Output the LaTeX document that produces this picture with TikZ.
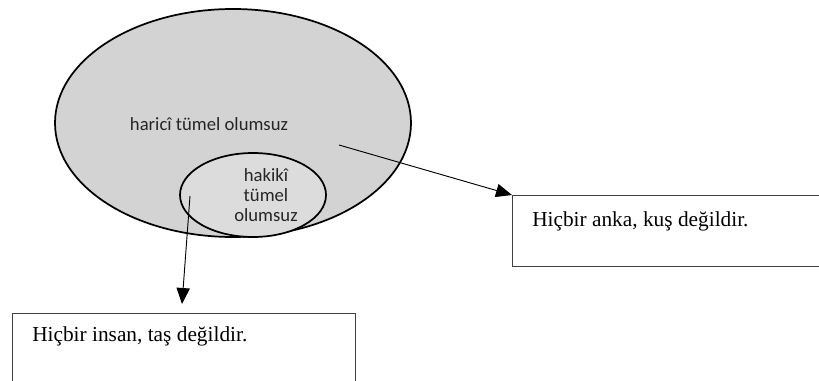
\documentclass[tikz,border=0pt]{standalone}
\usepackage{fontspec}
\setmainfont{Liberation Serif}
\newfontfamily\calib{Carlito}
\usetikzlibrary{shapes.geometric,arrows.meta}
\definecolor{outerfill}{HTML}{D3D3D3}
\definecolor{innerfill}{HTML}{DCDCDC}
\definecolor{boxline}{HTML}{404040}
\tikzset{
  venn/.style={ellipse, draw=black, line width=1.3pt, inner sep=0pt},
  lbl/.style={font=\calib\fontsize{14pt}{15pt}\selectfont, text=black!85, inner sep=0pt, align=center},
  exbox/.style={draw=boxline, line width=0.8pt, anchor=north west, inner sep=0pt},
  extext/.style={font=\fontsize{16pt}{18pt}\selectfont, anchor=base west, inner sep=0pt},
  conn/.style={line width=0.7pt, -{Triangle[length=12pt,width=10pt]}}
}
\begin{document}
\begin{tikzpicture}[x=0.75pt,y=-0.75pt]
\useasboundingbox (0,0) rectangle (819,381);
\clip (0,0) rectangle (819,381);
\node[venn, fill=outerfill, minimum width=267pt, minimum height=171pt] (outer) at (233,123) {};
\node[venn, fill=innerfill, minimum width=109.5pt, minimum height=63pt] (inner) at (253,195) {};
\node[lbl] (outerlbl) at (209,124) {haricî tümel olumsuz};
\node[lbl] (innerlbl) at (266,195) {hakikî\\tümel\\olumsuz};
\node[exbox, minimum width=300pt, minimum height=53.25pt] (box1) at (512,195) {};
\node[exbox, minimum width=257.25pt, minimum height=80pt] (box2) at (12,313) {};
\node[extext] (t1) at (532,227) {Hiçbir anka, kuş değildir.};
\node[extext] (t2) at (32,342) {Hiçbir insan, taş değildir.};
\coordinate (s1) at (339,145);
\coordinate (s2) at (190,196);
\coordinate (e2) at (182,304);
\draw[conn] (s1) -- (box1.north west);
\draw[conn] (s2) -- (e2);
\end{tikzpicture}
\end{document}
